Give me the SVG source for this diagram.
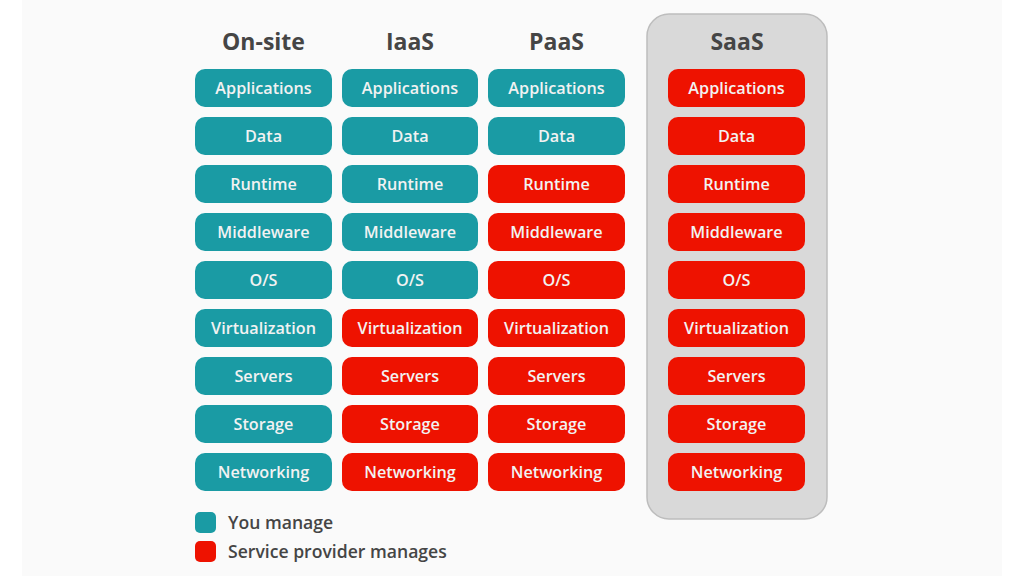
<svg xmlns="http://www.w3.org/2000/svg" width="1024" height="576" viewBox="0 0 1024 576">
<style>
.hdr{font-family:"Open Sans","Liberation Sans",sans-serif;font-weight:700;font-size:23px;fill:#454545;text-anchor:middle}
.lbl{font-family:"Open Sans","Liberation Sans",sans-serif;font-weight:600;font-size:16.2px;fill:#f2f2f2;text-anchor:middle;dominant-baseline:central}
.leg{font-family:"Open Sans","Liberation Sans",sans-serif;font-weight:600;font-size:17.6px;fill:#454545;dominant-baseline:central}
.you{fill:#1a9ba4}
.sp{fill:#ee1200}
</style>
<rect x="0" y="0" width="1024" height="576" fill="#ffffff"/>
<rect x="22" y="0" width="980" height="576" fill="#fafafa"/>
<rect id="saas-panel" x="647" y="14" width="180" height="505" rx="22" fill="#d9d9d9" stroke="#bdbdbd" stroke-width="1.5"/>
<g id="headers">
<text class="hdr" x="263.5" y="50">On-site</text>
<text class="hdr" x="410" y="50">IaaS</text>
<text class="hdr" x="556.5" y="50">PaaS</text>
<text class="hdr" x="737" y="50">SaaS</text>
</g>
<g id="onsite">
<rect class="you" x="195" y="69" width="137" height="38" rx="10"/><text class="lbl" x="263.5" y="87.5">Applications</text>
<rect class="you" x="195" y="117" width="137" height="38" rx="10"/><text class="lbl" x="263.5" y="135.5">Data</text>
<rect class="you" x="195" y="165" width="137" height="38" rx="10"/><text class="lbl" x="263.5" y="183.5">Runtime</text>
<rect class="you" x="195" y="213" width="137" height="38" rx="10"/><text class="lbl" x="263.5" y="231.5">Middleware</text>
<rect class="you" x="195" y="261" width="137" height="38" rx="10"/><text class="lbl" x="263.5" y="279.5">O/S</text>
<rect class="you" x="195" y="309" width="137" height="38" rx="10"/><text class="lbl" x="263.5" y="327.5">Virtualization</text>
<rect class="you" x="195" y="357" width="137" height="38" rx="10"/><text class="lbl" x="263.5" y="375.5">Servers</text>
<rect class="you" x="195" y="405" width="137" height="38" rx="10"/><text class="lbl" x="263.5" y="423.5">Storage</text>
<rect class="you" x="195" y="453" width="137" height="38" rx="10"/><text class="lbl" x="263.5" y="471.5">Networking</text>
</g>
<g id="iaas">
<rect class="you" x="342" y="69" width="136" height="38" rx="10"/><text class="lbl" x="410" y="87.5">Applications</text>
<rect class="you" x="342" y="117" width="136" height="38" rx="10"/><text class="lbl" x="410" y="135.5">Data</text>
<rect class="you" x="342" y="165" width="136" height="38" rx="10"/><text class="lbl" x="410" y="183.5">Runtime</text>
<rect class="you" x="342" y="213" width="136" height="38" rx="10"/><text class="lbl" x="410" y="231.5">Middleware</text>
<rect class="you" x="342" y="261" width="136" height="38" rx="10"/><text class="lbl" x="410" y="279.5">O/S</text>
<rect class="sp" x="342" y="309" width="136" height="38" rx="10"/><text class="lbl" x="410" y="327.5">Virtualization</text>
<rect class="sp" x="342" y="357" width="136" height="38" rx="10"/><text class="lbl" x="410" y="375.5">Servers</text>
<rect class="sp" x="342" y="405" width="136" height="38" rx="10"/><text class="lbl" x="410" y="423.5">Storage</text>
<rect class="sp" x="342" y="453" width="136" height="38" rx="10"/><text class="lbl" x="410" y="471.5">Networking</text>
</g>
<g id="paas">
<rect class="you" x="488" y="69" width="137" height="38" rx="10"/><text class="lbl" x="556.5" y="87.5">Applications</text>
<rect class="you" x="488" y="117" width="137" height="38" rx="10"/><text class="lbl" x="556.5" y="135.5">Data</text>
<rect class="sp" x="488" y="165" width="137" height="38" rx="10"/><text class="lbl" x="556.5" y="183.5">Runtime</text>
<rect class="sp" x="488" y="213" width="137" height="38" rx="10"/><text class="lbl" x="556.5" y="231.5">Middleware</text>
<rect class="sp" x="488" y="261" width="137" height="38" rx="10"/><text class="lbl" x="556.5" y="279.5">O/S</text>
<rect class="sp" x="488" y="309" width="137" height="38" rx="10"/><text class="lbl" x="556.5" y="327.5">Virtualization</text>
<rect class="sp" x="488" y="357" width="137" height="38" rx="10"/><text class="lbl" x="556.5" y="375.5">Servers</text>
<rect class="sp" x="488" y="405" width="137" height="38" rx="10"/><text class="lbl" x="556.5" y="423.5">Storage</text>
<rect class="sp" x="488" y="453" width="137" height="38" rx="10"/><text class="lbl" x="556.5" y="471.5">Networking</text>
</g>
<g id="saas">
<rect class="sp" x="668" y="69" width="137" height="38" rx="10"/><text class="lbl" x="736.5" y="87.5">Applications</text>
<rect class="sp" x="668" y="117" width="137" height="38" rx="10"/><text class="lbl" x="736.5" y="135.5">Data</text>
<rect class="sp" x="668" y="165" width="137" height="38" rx="10"/><text class="lbl" x="736.5" y="183.5">Runtime</text>
<rect class="sp" x="668" y="213" width="137" height="38" rx="10"/><text class="lbl" x="736.5" y="231.5">Middleware</text>
<rect class="sp" x="668" y="261" width="137" height="38" rx="10"/><text class="lbl" x="736.5" y="279.5">O/S</text>
<rect class="sp" x="668" y="309" width="137" height="38" rx="10"/><text class="lbl" x="736.5" y="327.5">Virtualization</text>
<rect class="sp" x="668" y="357" width="137" height="38" rx="10"/><text class="lbl" x="736.5" y="375.5">Servers</text>
<rect class="sp" x="668" y="405" width="137" height="38" rx="10"/><text class="lbl" x="736.5" y="423.5">Storage</text>
<rect class="sp" x="668" y="453" width="137" height="38" rx="10"/><text class="lbl" x="736.5" y="471.5">Networking</text>
</g>
<g id="legend">
<rect class="you" x="195" y="512" width="21" height="21" rx="5"/>
<text class="leg" x="228" y="521.5">You manage</text>
<rect class="sp" x="195" y="541" width="21" height="21" rx="5"/>
<text class="leg" x="228" y="550.5">Service provider manages</text>
</g>
<g id="connectors"/>
</svg>
